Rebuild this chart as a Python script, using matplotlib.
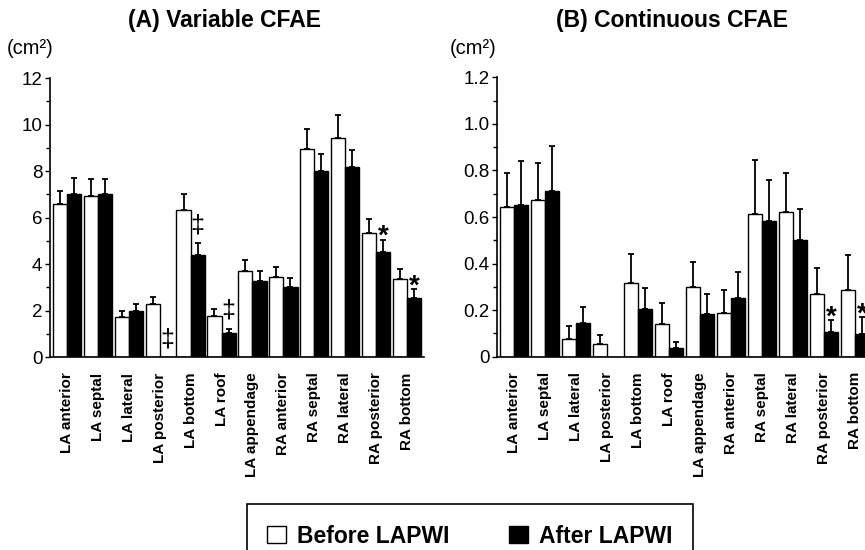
import numpy as np
import matplotlib
matplotlib.use('Agg')
import matplotlib.pyplot as plt
from matplotlib.patches import Patch
from matplotlib.ticker import MultipleLocator

plt.rcParams['font.family'] = ['Liberation Sans', 'DejaVu Sans']

regions = ['LA anterior', 'LA septal', 'LA lateral', 'LA posterior', 'LA bottom', 'LA roof',
           'LA appendage', 'RA anterior', 'RA septal', 'RA lateral', 'RA posterior', 'RA bottom']

# (A) variable CFAE, cm2
var_before = [6.58, 6.94, 1.71, 2.31, 6.33, 1.79, 3.71, 3.43, 8.94, 9.43, 5.33, 3.37]
var_before_err = [0.56, 0.71, 0.26, 0.30, 0.68, 0.28, 0.46, 0.46, 0.85, 0.98, 0.60, 0.43]
var_after = [7.01, 7.01, 1.97, 0.0, 4.39, 1.05, 3.29, 3.00, 8.02, 8.16, 4.54, 2.54]
var_after_err = [0.70, 0.64, 0.34, 0.0, 0.51, 0.18, 0.40, 0.39, 0.71, 0.73, 0.52, 0.39]
var_sig = ['', '', '', '\u2021', '\u2021', '\u2021', '', '', '', '', '*', '*']

# (B) continuous CFAE, cm2
cont_before = [0.645, 0.675, 0.077, 0.054, 0.318, 0.142, 0.301, 0.186, 0.615, 0.620, 0.269, 0.287]
cont_before_err = [0.146, 0.159, 0.055, 0.039, 0.122, 0.090, 0.106, 0.102, 0.229, 0.169, 0.114, 0.151]
cont_after = [0.652, 0.713, 0.143, 0.0, 0.206, 0.039, 0.182, 0.251, 0.583, 0.501, 0.107, 0.099]
cont_after_err = [0.188, 0.190, 0.070, 0.0, 0.089, 0.023, 0.089, 0.111, 0.175, 0.132, 0.050, 0.071]
cont_sig = ['', '', '', '', '', '', '', '', '', '', '*', '*']

W, H = 865, 550
fig = plt.figure(figsize=(W / 100, H / 100), dpi=100)

ax1 = fig.add_axes([50 / W, 1 - 357.3 / H, 374 / W, 279.3 / H])
ax2 = fig.add_axes([497 / W, 1 - 356.7 / H, 375 / W, 279.4 / H])


def draw_panel(ax, before, before_err, after, after_err, sig, ymax, step, fmt):
    x = np.arange(len(regions))
    bw = 0.46
    before = np.array(before)
    after = np.array(after)
    ax.bar(x - bw / 2, before, bw, color='white', edgecolor='black', linewidth=1.0, zorder=2)
    ax.bar(x + bw / 2, after, bw, color='black', edgecolor='black', linewidth=1.0, zorder=2)

    # only upper error bars, skip empty bars
    for xs, vals, errs in [(x - bw / 2, before, before_err), (x + bw / 2, after, after_err)]:
        errs = np.array(errs)
        keep = vals > 0
        ax.errorbar(xs[keep], vals[keep], yerr=[np.zeros(keep.sum()), errs[keep]],
                    fmt='none', ecolor='black', elinewidth=1.3, capsize=2.3, capthick=1.3, zorder=1)

    after_err = np.array(after_err)
    for i, s in enumerate(sig):
        if not s:
            continue
        top = after[i] + after_err[i]
        if s == '*':
            ax.annotate(s, xy=(x[i] + bw / 2, top), xytext=(0, -3), textcoords='offset points',
                        ha='center', va='baseline', fontsize=20, fontweight='bold')
        else:
            ax.annotate(s, xy=(x[i] + bw / 2, top), xytext=(0, 8), textcoords='offset points',
                        ha='center', va='baseline', fontsize=18)

    ax.set_xlim(-0.55, len(regions) - 0.45)
    ax.set_ylim(0, ymax)
    ax.yaxis.set_major_locator(MultipleLocator(step))
    ax.yaxis.set_minor_locator(MultipleLocator(step / 2))
    ticks = np.arange(0, ymax + step / 2, step)
    ax.set_yticks(ticks)
    ax.set_yticklabels(['0'] + [fmt.format(t) for t in ticks[1:]], fontsize=13.5)
    ax.tick_params(axis='y', which='major', direction='out', length=3.5, width=1, pad=2)
    ax.tick_params(axis='y', which='minor', direction='out', length=3, width=1)
    ax.set_xticks(x)
    ax.set_xticklabels(regions, rotation=90, fontsize=11, fontweight='bold')
    ax.tick_params(axis='x', length=0, pad=11)
    for side in ['top', 'right']:
        ax.spines[side].set_visible(False)
    for side in ['left', 'bottom']:
        ax.spines[side].set_linewidth(1.2)


draw_panel(ax1, var_before, var_before_err, var_after, var_after_err, var_sig, 12, 2, '{:.0f}')
draw_panel(ax2, cont_before, cont_before_err, cont_after, cont_after_err, cont_sig, 1.2, 0.2, '{:.1f}')

fig.text(225 / W, 1 - 21 / H, '(A) Variable CFAE', ha='center', va='center', fontsize=16.5, fontweight='bold')
fig.text(672 / W, 1 - 21 / H, '(B) Continuous CFAE', ha='center', va='center', fontsize=16.5, fontweight='bold')
fig.text(7 / W, 1 - 48 / H, '(cm\u00b2)', ha='left', va='center', fontsize=14.5)
fig.text(450 / W, 1 - 48 / H, '(cm\u00b2)', ha='left', va='center', fontsize=14.5)

handles = [Patch(facecolor='white', edgecolor='black', linewidth=1.0),
           Patch(facecolor='black', edgecolor='black', linewidth=1.0)]
leg = fig.legend(handles, ['Before LAPWI', 'After LAPWI'], ncol=2, loc='upper center',
                 bbox_to_anchor=(470 / W, 1 - 504 / H), frameon=True, fancybox=False,
                 edgecolor='black', framealpha=1, prop={'size': 16.5, 'weight': 'bold'},
                 handlelength=0.8, handleheight=0.8, handletextpad=0.5,
                 columnspacing=2.6, borderpad=0.9, borderaxespad=0)
leg.get_frame().set_linewidth(1.2)

fig.savefig('out.png', dpi=100)
